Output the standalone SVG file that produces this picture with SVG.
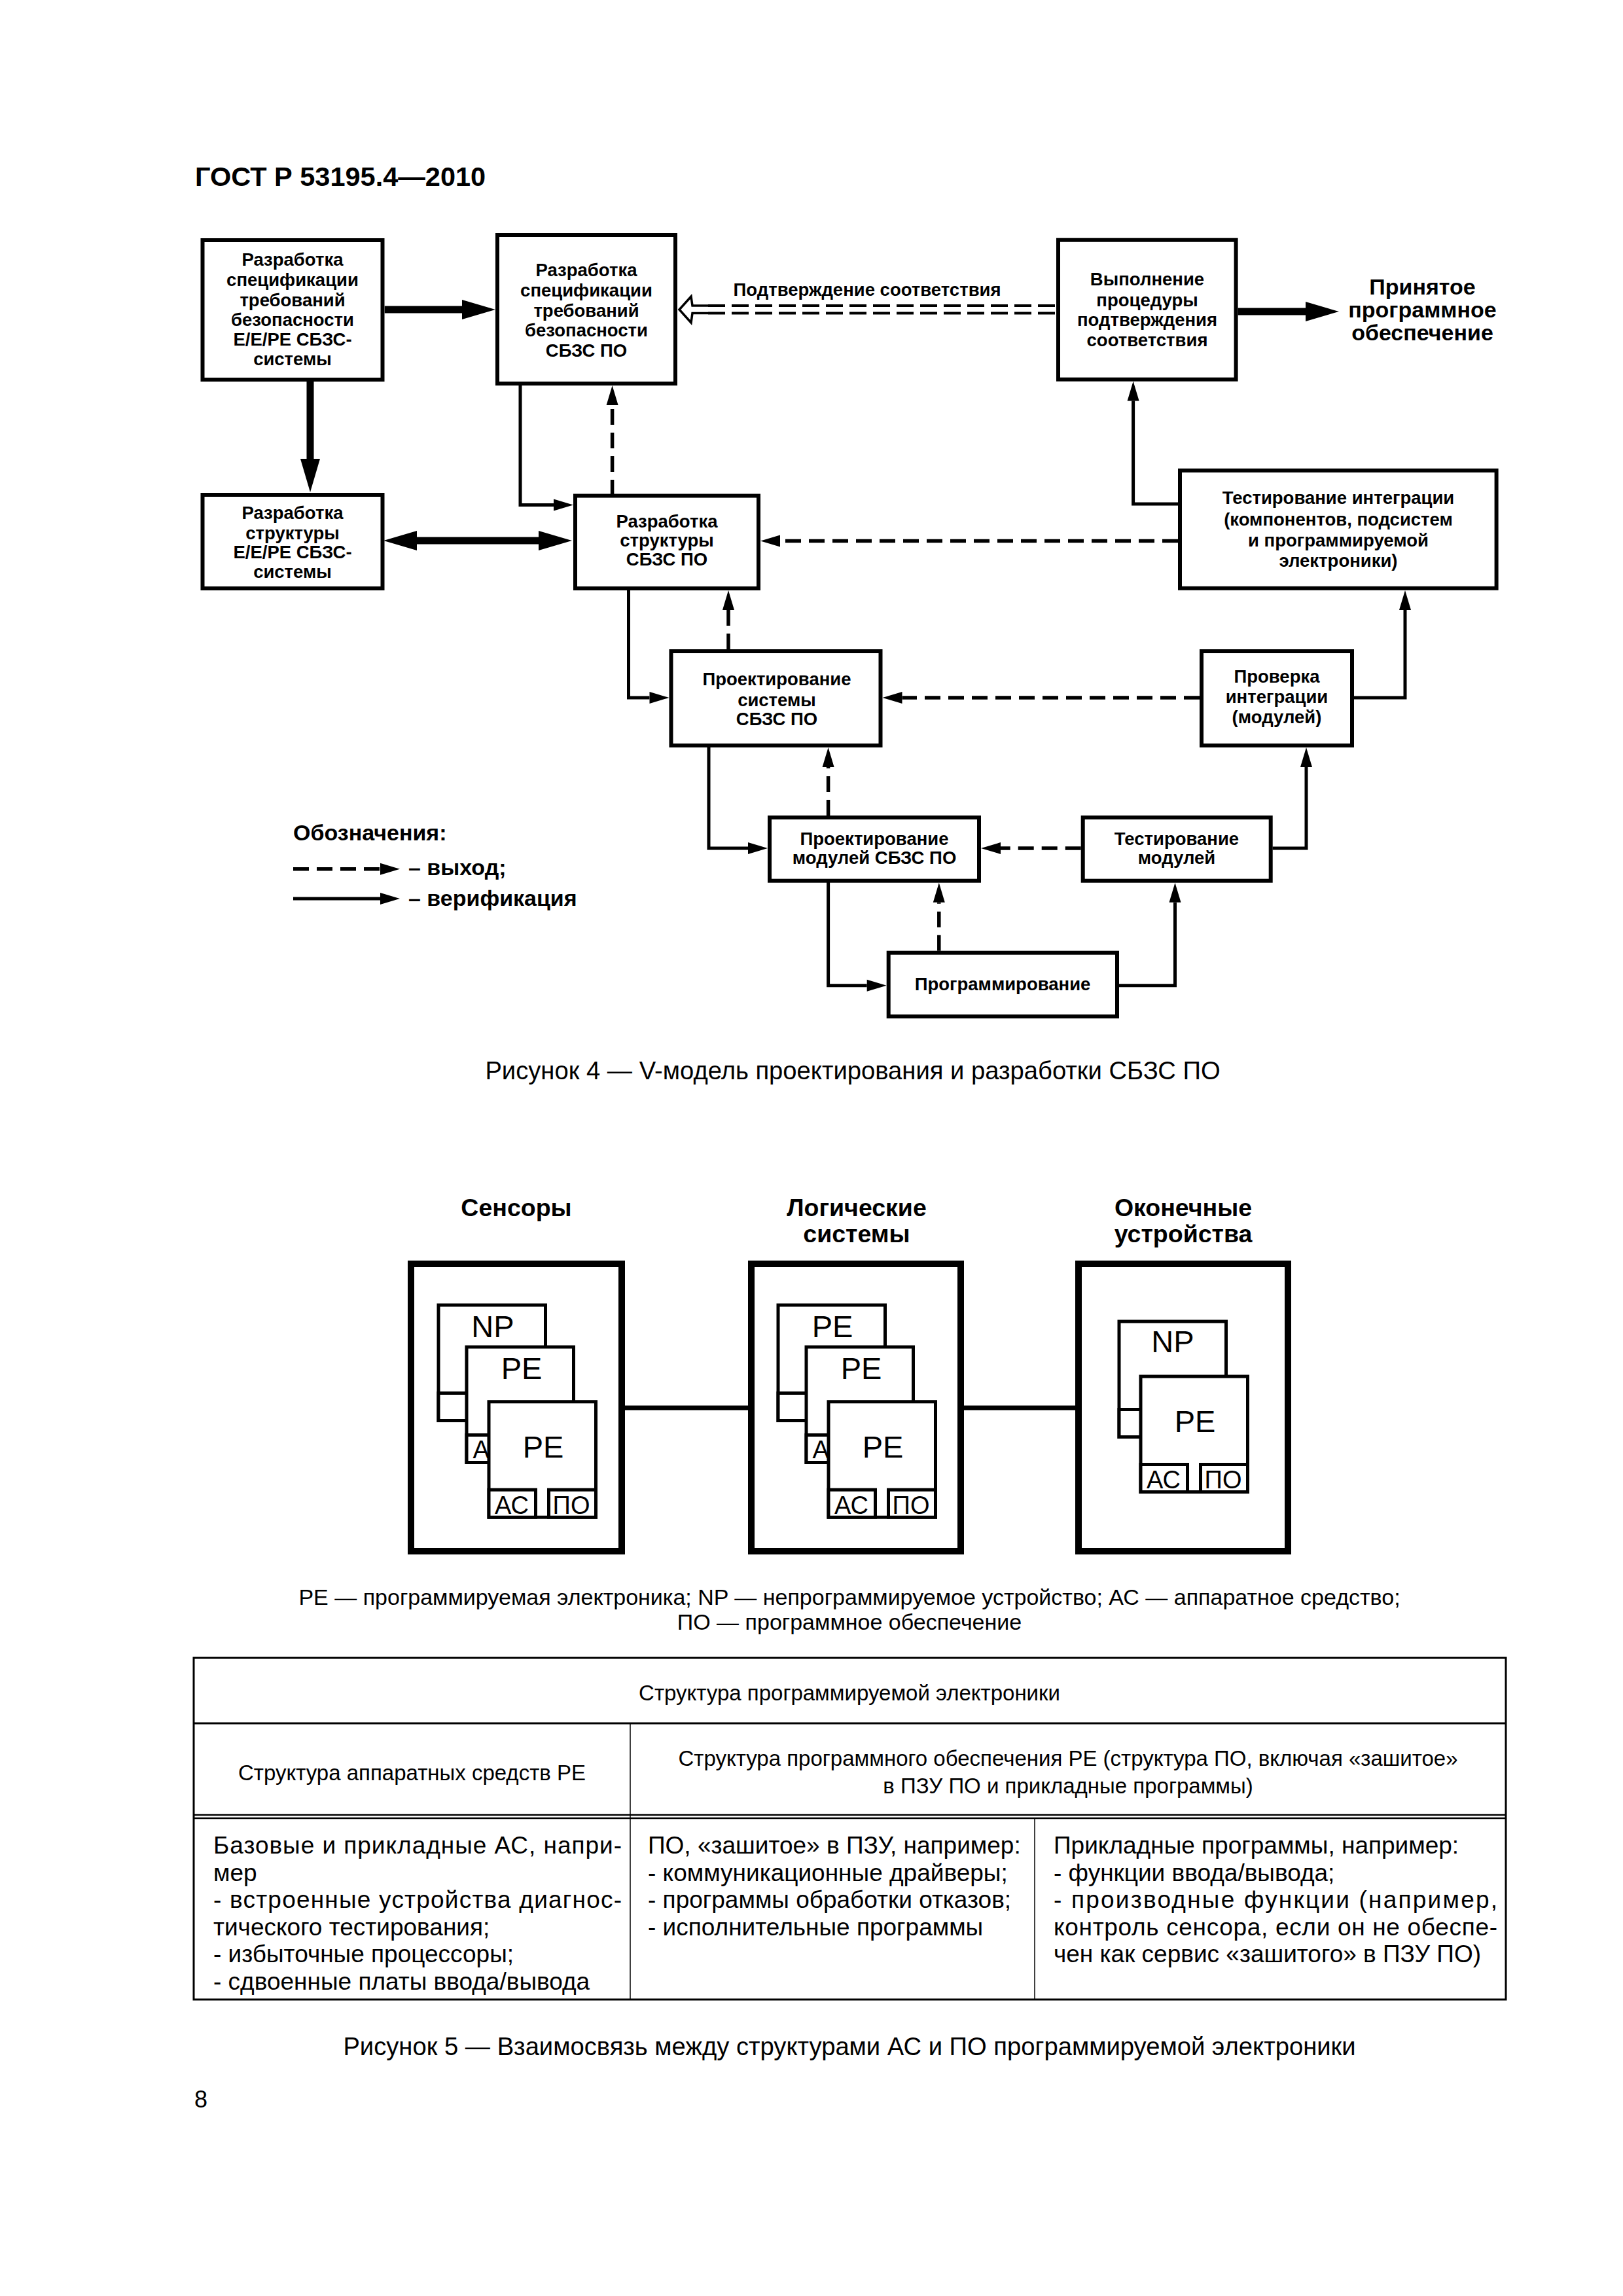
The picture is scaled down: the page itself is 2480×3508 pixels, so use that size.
<svg xmlns="http://www.w3.org/2000/svg" xmlns:xlink="http://www.w3.org/1999/xlink" width="2480" height="3508" viewBox="0 0 2480 3508">
<style>
text{font-family:"Liberation Sans",Arial,sans-serif;fill:#000}
.bx{fill:#fff;stroke:#000;stroke-width:6}
.bt{font-weight:bold;font-size:27.5px;text-anchor:middle}
.big{font-weight:bold;font-size:34px;text-anchor:middle}
.hd{font-weight:bold;font-size:41.5px}
.cap{font-size:38.2px;text-anchor:middle}
.lg{font-weight:bold;font-size:34px}
.th{font-size:33px;text-anchor:middle}
.td{font-size:37px}
.ttl{font-weight:bold;font-size:37.5px;text-anchor:middle}
.lbl{font-size:47px;text-anchor:middle}
.sl{font-size:38px;text-anchor:middle}
.thick{fill:none;stroke:#000;stroke-width:11}
.thin{fill:none;stroke:#000;stroke-width:5}
.dash{fill:none;stroke:#000;stroke-width:5.5;stroke-dasharray:24 12}
.dd{fill:none;stroke:#000;stroke-width:4;stroke-dasharray:26 10}
.ob{fill:#fff;stroke:#000;stroke-width:10}
.cd{fill:#fff;stroke:#000;stroke-width:5}
.tl{stroke:#000;fill:none}
</style>
<defs>
<marker id="ah" markerUnits="userSpaceOnUse" markerWidth="32" markerHeight="20" refX="0" refY="9" orient="auto" overflow="visible"><path d="M0,0 L30,9 L0,18 z" fill="#000"/></marker>
<marker id="ahT" markerUnits="userSpaceOnUse" markerWidth="54" markerHeight="32" refX="0" refY="15" orient="auto-start-reverse" overflow="visible"><path d="M0,0 L51,15 L0,30 z" fill="#000"/></marker>
<g id="card">
<rect class="cd" x="0" y="0" width="163.5" height="176.5"/>
<rect class="cd" x="0" y="134.5" width="71.5" height="42"/>
<rect class="cd" x="91.5" y="134.5" width="72" height="42"/>
</g>
</defs>
<rect width="2480" height="3508" fill="#fff"/>

<text class="hd" x="298" y="284">ГОСТ Р 53195.4—2010</text>

<!-- Figure 4 connectors -->
<g id="connectors">
<line class="thick" x1="587.7" y1="473" x2="706" y2="473" marker-end="url(#ahT)"/>
<line class="thick" x1="474" y1="583" x2="474" y2="701" marker-end="url(#ahT)"/>
<line class="thick" x1="637" y1="826" x2="823" y2="826" marker-start="url(#ahT)" marker-end="url(#ahT)"/>
<polyline class="thin" points="795,586 795,771.5 846,771.5" marker-end="url(#ah)"/>
<line class="dash" x1="935.6" y1="757" x2="935.6" y2="619" marker-end="url(#ah)"/>
<line class="dd" x1="1082" y1="467" x2="1614" y2="467"/>
<line class="dd" x1="1082" y1="478.5" x2="1614" y2="478.5"/>
<path d="M1082,467 H1058 L1056,453 L1038,473 L1056,493 L1058,478.5 H1082" fill="#fff" stroke="#000" stroke-width="3.5" stroke-linejoin="miter"/>
<line class="thick" x1="1891.6" y1="476" x2="1995" y2="476" marker-end="url(#ahT)"/>
<polyline class="thin" points="1803,770 1731.6,770 1731.6,612.6" marker-end="url(#ah)"/>
<line class="dash" x1="1800" y1="826.4" x2="1192" y2="826.4" marker-end="url(#ah)"/>
<polyline class="thin" points="960.5,899 960.5,1066 992.5,1066" marker-end="url(#ah)"/>
<line class="dash" x1="1113" y1="992" x2="1113" y2="932" marker-end="url(#ah)"/>
<line class="dash" x1="1833" y1="1066" x2="1378.5" y2="1066" marker-end="url(#ah)"/>
<polyline class="thin" points="2069,1066 2147,1066 2147,932" marker-end="url(#ah)"/>
<polyline class="thin" points="1083,1139 1083,1296 1143,1296" marker-end="url(#ah)"/>
<line class="dash" x1="1265.6" y1="1246" x2="1265.6" y2="1172" marker-end="url(#ah)"/>
<line class="dash" x1="1651.7" y1="1296" x2="1529" y2="1296" marker-end="url(#ah)"/>
<polyline class="thin" points="1944.5,1296 1996,1296 1996,1172" marker-end="url(#ah)"/>
<polyline class="thin" points="1265.6,1345.7 1265.6,1505.8 1324.7,1505.8" marker-end="url(#ah)"/>
<line class="dash" x1="1434.8" y1="1452.7" x2="1434.8" y2="1378.7" marker-end="url(#ah)"/>
<polyline class="thin" points="1710,1505.8 1795.5,1505.8 1795.5,1378.7" marker-end="url(#ah)"/>
<line class="thick" x1="950" y1="2151" x2="1148" y2="2151" style="stroke-width:7"/>
<line class="thick" x1="1468" y1="2151" x2="1648" y2="2151" style="stroke-width:7"/>
</g>
<text class="bt" x="1325" y="452">Подтверждение соответствия</text>

<!-- Figure 4 nodes -->
<g id="n1"><rect class="bx" x="309.5" y="367" width="275" height="213"/>
<text class="bt"><tspan x="447" y="406">Разработка</tspan><tspan x="447" y="437">спецификации</tspan><tspan x="447" y="467.5">требований</tspan><tspan x="447" y="498">безопасности</tspan><tspan x="447" y="528">Е/Е/РЕ СБЗС-</tspan><tspan x="447" y="558">системы</tspan></text></g>
<g id="n2"><rect class="bx" x="760" y="359" width="272" height="227"/>
<text class="bt"><tspan x="896" y="422">Разработка</tspan><tspan x="896" y="453">спецификации</tspan><tspan x="896" y="483.6">требований</tspan><tspan x="896" y="514">безопасности</tspan><tspan x="896" y="544.7">СБЗС ПО</tspan></text></g>
<g id="n3"><rect class="bx" x="309.5" y="756" width="275" height="143"/>
<text class="bt"><tspan x="447" y="792.5">Разработка</tspan><tspan x="447" y="823.8">структуры</tspan><tspan x="447" y="852.8">Е/Е/РЕ СБЗС-</tspan><tspan x="447" y="882.7">системы</tspan></text></g>
<g id="n4"><rect class="bx" x="879" y="757.5" width="280" height="141.5"/>
<text class="bt"><tspan x="1019" y="806">Разработка</tspan><tspan x="1019" y="835">структуры</tspan><tspan x="1019" y="864">СБЗС ПО</tspan></text></g>
<g id="n5"><rect class="bx" x="1617" y="366.7" width="271.6" height="213"/>
<text class="bt"><tspan x="1753" y="436">Выполнение</tspan><tspan x="1753" y="467.8">процедуры</tspan><tspan x="1753" y="498.4">подтверждения</tspan><tspan x="1753" y="529">соответствия</tspan></text></g>
<g id="n-accepted"><text class="big"><tspan x="2173.5" y="450">Принятое</tspan><tspan x="2173.5" y="485">программное</tspan><tspan x="2173.5" y="520">обеспечение</tspan></text></g>
<g id="n6"><rect class="bx" x="1803" y="718.8" width="483.6" height="180"/>
<text class="bt"><tspan x="2045" y="770">Тестирование интеграции</tspan><tspan x="2045" y="803">(компонентов, подсистем</tspan><tspan x="2045" y="835">и программируемой</tspan><tspan x="2045" y="866">электроники)</tspan></text></g>
<g id="n7"><rect class="bx" x="1025.5" y="995" width="320" height="144"/>
<text class="bt"><tspan x="1187" y="1047">Проектирование</tspan><tspan x="1187" y="1078.6">системы</tspan><tspan x="1187" y="1107.6">СБЗС ПО</tspan></text></g>
<g id="n10"><rect class="bx" x="1836" y="995" width="230" height="144"/>
<text class="bt"><tspan x="1951" y="1043">Проверка</tspan><tspan x="1951" y="1074">интеграции</tspan><tspan x="1951" y="1105">(модулей)</tspan></text></g>
<g id="n8"><rect class="bx" x="1176" y="1249" width="320" height="96.7"/>
<text class="bt"><tspan x="1336" y="1290.6">Проектирование</tspan><tspan x="1336" y="1319.6">модулей СБЗС ПО</tspan></text></g>
<g id="n11"><rect class="bx" x="1654.7" y="1249" width="287" height="96.7"/>
<text class="bt"><tspan x="1798" y="1290.6">Тестирование</tspan><tspan x="1798" y="1319.6">модулей</tspan></text></g>
<g id="n9"><rect class="bx" x="1357.7" y="1455.7" width="349.3" height="97.3"/>
<text class="bt" x="1532" y="1513">Программирование</text></g>

<!-- legend -->
<g id="legend">
<text class="lg" x="448" y="1284">Обозначения:</text>
<line class="dash" x1="448" y1="1327.7" x2="581" y2="1327.7" marker-end="url(#ah)"/>
<text class="lg" x="624" y="1337">– выход;</text>
<line class="thin" x1="448" y1="1373" x2="581" y2="1373" marker-end="url(#ah)"/>
<text class="lg" x="624" y="1384">– верификация</text>
</g>

<text class="cap" x="1303" y="1649">Рисунок 4 — V-модель проектирования и разработки СБЗС ПО</text>

<!-- Figure 5 -->
<text class="ttl" x="789" y="1858">Сенсоры</text>
<text class="ttl"><tspan x="1309" y="1858">Логические</tspan><tspan x="1309" y="1898">системы</tspan></text>
<text class="ttl"><tspan x="1808" y="1858">Оконечные</tspan><tspan x="1808" y="1898">устройства</tspan></text>

<g id="sensors">
<rect class="ob" x="628" y="1931" width="322" height="439"/>
<use xlink:href="#card" x="670" y="1994"/><text class="lbl" x="753" y="2042.7">NP</text>
<use xlink:href="#card" x="713" y="2058"/><text class="lbl" x="797" y="2106.7">PE</text><text class="sl" x="748.5" y="2227.5">АС</text>
<use xlink:href="#card" x="747" y="2141.7"/><text class="lbl" x="830" y="2227">PE</text><text class="sl" x="782" y="2312.7">АС</text><text class="sl" x="873" y="2312.7">ПО</text>
</g>
<g id="logic">
<rect class="ob" x="1148" y="1931" width="320" height="439"/>
<use xlink:href="#card" x="1189" y="1994"/><text class="lbl" x="1272" y="2042.7">PE</text>
<use xlink:href="#card" x="1232" y="2058"/><text class="lbl" x="1316" y="2106.7">PE</text><text class="sl" x="1267.5" y="2227.5">АС</text>
<use xlink:href="#card" x="1266" y="2141.7"/><text class="lbl" x="1349" y="2227">PE</text><text class="sl" x="1301" y="2312.7">АС</text><text class="sl" x="1392" y="2312.7">ПО</text>
</g>
<g id="actuators">
<rect class="ob" x="1648" y="1931" width="320" height="439"/>
<use xlink:href="#card" x="1710" y="2019"/><text class="lbl" x="1792" y="2065.7">NP</text>
<use xlink:href="#card" x="1743" y="2103"/><text class="lbl" x="1826" y="2188">PE</text><text class="sl" x="1778" y="2274">АС</text><text class="sl" x="1869" y="2274">ПО</text>
</g>

<text class="th" style="font-size:34px"><tspan x="1298" y="2451.7">PE — программируемая электроника; NP — непрограммируемое устройство; АС — аппаратное средство;</tspan><tspan x="1298" y="2490">ПО — программное обеспечение</tspan></text>

<!-- table -->
<g id="table">
<rect class="tl" x="296" y="2533" width="2005" height="522" stroke-width="3"/>
<line class="tl" x1="296" y1="2633" x2="2301" y2="2633" stroke-width="3"/>
<line class="tl" x1="296" y1="2773" x2="2301" y2="2773" stroke-width="2.5"/>
<line class="tl" x1="296" y1="2778" x2="2301" y2="2778" stroke-width="2.5"/>
<line class="tl" x1="963" y1="2633" x2="963" y2="3055" stroke-width="1.5"/>
<line class="tl" x1="1581" y1="2778" x2="1581" y2="3055" stroke-width="1.5"/>
<text class="th" x="1298" y="2598">Структура программируемой электроники</text>
<text class="th" x="629.5" y="2720">Структура аппаратных средств РЕ</text>
<text class="th"><tspan x="1632" y="2698">Структура программного обеспечения РЕ (структура ПО, включая «зашитое»</tspan><tspan x="1632" y="2740">в ПЗУ ПО и прикладные программы)</tspan></text>
<text class="td" x="326" y="2832" textLength="624" lengthAdjust="spacing">Базовые и прикладные АС, напри-</text>
<text class="td" x="326" y="2873.5">мер</text>
<text class="td" x="326" y="2915" textLength="624" lengthAdjust="spacing">- встроенные  устройства  диагнос-</text>
<text class="td" x="326" y="2956.5">тического тестирования;</text>
<text class="td" x="326" y="2998">- избыточные процессоры;</text>
<text class="td" x="326" y="3039.5">- сдвоенные платы ввода/вывода</text>
<text class="td" x="990" y="2832">ПО, «зашитое» в ПЗУ, например:</text>
<text class="td" x="990" y="2873.5">- коммуникационные драйверы;</text>
<text class="td" x="990" y="2915">- программы обработки отказов;</text>
<text class="td" x="990" y="2956.5">- исполнительные программы</text>
<text class="td" x="1610" y="2832">Прикладные программы, например:</text>
<text class="td" x="1610" y="2873.5">- функции ввода/вывода;</text>
<text class="td" x="1610" y="2915" textLength="678" lengthAdjust="spacing">- производные   функции   (например,</text>
<text class="td" x="1610" y="2956.5" textLength="678" lengthAdjust="spacing">контроль сенсора, если он не обеспе-</text>
<text class="td" x="1610" y="2998">чен как сервис «зашитого» в ПЗУ ПО)</text>
</g>

<text class="cap" x="1298" y="3140">Рисунок 5 — Взаимосвязь между структурами АС и ПО программируемой электроники</text>
<text x="297" y="3220" style="font-size:36px">8</text>
</svg>
